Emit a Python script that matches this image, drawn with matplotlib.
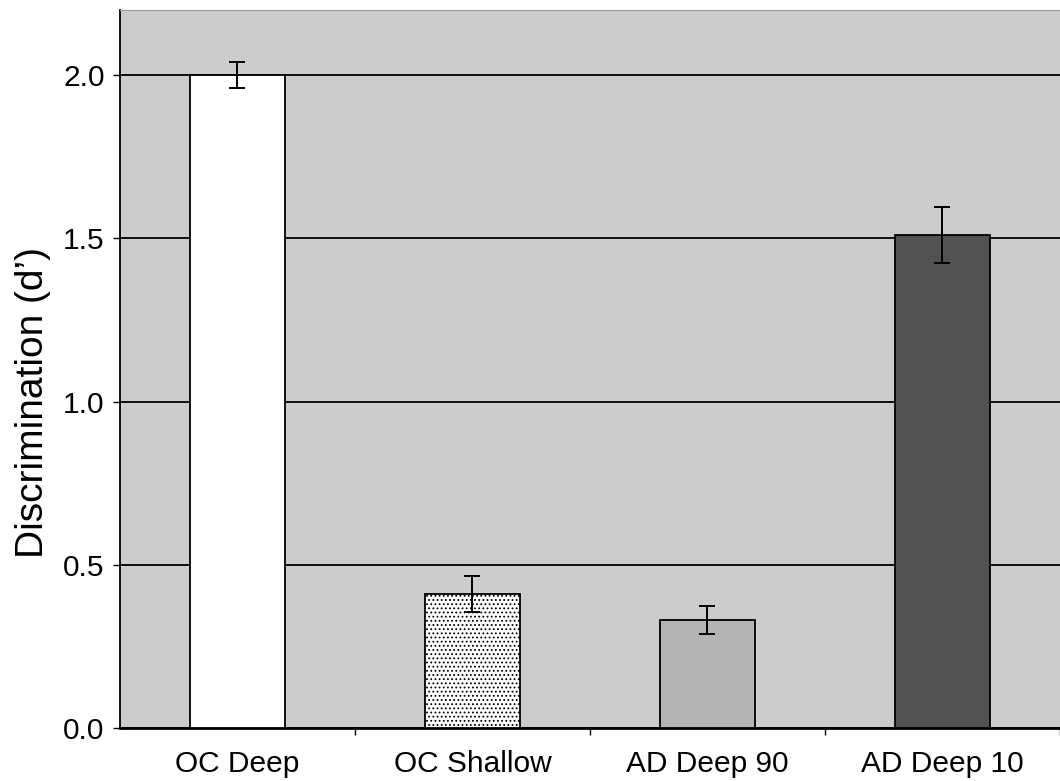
import matplotlib
matplotlib.use("Agg")
import matplotlib.pyplot as plt
import numpy as np

plt.rcParams["font.family"] = ["Liberation Sans", "DejaVu Sans"]
plt.rcParams["hatch.linewidth"] = 0.8

# Data
categories = ["OC Deep", "OC Shallow", "AD Deep 90", "AD Deep 10"]
values = [2.00, 0.41, 0.33, 1.51]
errors = [0.04, 0.055, 0.043, 0.085]
colors = ["#ffffff", "#ffffff", "#b4b4b4", "#525252"]
hatches = ["", "....", "", ""]

fig = plt.figure(figsize=(10.6, 7.81), dpi=100)
ax = fig.add_axes([0.1132, 0.068, 0.8868, 0.9192])
ax.set_facecolor("#cccccc")

x = np.arange(len(categories))
bars = ax.bar(x, values, width=0.405, color=colors, edgecolor="black",
              linewidth=1.3, zorder=3)
for bar, h in zip(bars, hatches):
    bar.set_hatch(h)
ax.errorbar(x, values, yerr=errors, fmt="none", ecolor="black",
            elinewidth=1.4, capsize=5.5, capthick=1.4, zorder=4)

ax.set_xlim(-0.5, 3.5)
ax.set_ylim(0, 2.2)
ax.set_yticks([0.0, 0.5, 1.0, 1.5, 2.0])
ax.set_yticklabels(["0.0", "0.5", "1.0", "1.5", "2.0"], fontsize=21.5)
ax.yaxis.grid(True, color="black", linewidth=1.3, zorder=1)
ax.set_axisbelow(True)

# category labels centered under bars, ticks between categories
ax.set_xticks(x + 0.5)
ax.set_xticklabels([])
ax.set_xticks(x, minor=True)
ax.set_xticklabels(categories, minor=True, fontsize=21.5)
ax.tick_params(axis="x", which="minor", length=0, pad=16)
ax.tick_params(axis="x", which="major", length=5, width=1, direction="out")
ax.tick_params(axis="y", length=5, width=1, direction="out", pad=6)

ax.set_ylabel("Discrimination (d’)", fontsize=28)
ax.yaxis.set_label_coords(-0.073, 0.453)

ax.spines["right"].set_visible(False)
ax.spines["top"].set_color("#999999")
ax.spines["left"].set_linewidth(1.3)
ax.spines["bottom"].set_linewidth(2)

fig.savefig("out.png", dpi=100)
